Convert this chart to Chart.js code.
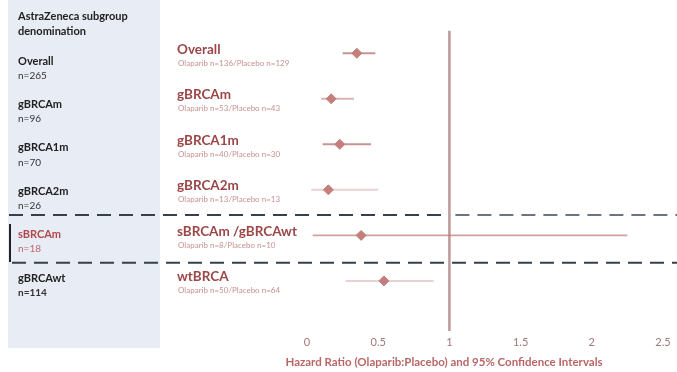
<!DOCTYPE html>
<html>
<head>
<meta charset="utf-8">
<script src="https://cdn.jsdelivr.net/npm/chart.js@4.4.1/dist/chart.umd.min.js"></script>
<style>
  html, body { margin: 0; padding: 0; background: #ffffff; }
  #wrap { width: 677px; height: 372px; position: relative; }
</style>
</head>
<body>
<div id="wrap"><canvas id="forest"></canvas></div>
<script>
// Subgroups as plotted (rows top to bottom)
const categories = ['Overall', 'gBRCAm', 'gBRCA1m', 'gBRCA2m', 'sBRCAm /gBRCAwt', 'wtBRCA'];
const armCounts = [
  'Olaparib n=136/Placebo n=129',
  'Olaparib n=53/Placebo n=43',
  'Olaparib n=40/Placebo n=30',
  'Olaparib n=13/Placebo n=13',
  'Olaparib n=8/Placebo n=10',
  'Olaparib n=50/Placebo n=64'
];
// Sponsor's own subgroup naming, shown in the side panel
const azGroups = ['Overall', 'gBRCAm', 'gBRCA1m', 'gBRCA2m', 'sBRCAm', 'gBRCAwt'];
const azCounts = ['n=265', 'n=96', 'n=70', 'n=26', 'n=18', 'n=114'];
// Hazard ratios with 95% confidence limits
const hazardRatio = [0.35, 0.17, 0.23, 0.15, 0.38, 0.54];
const ciLower     = [0.25, 0.10, 0.11, 0.03, 0.04, 0.27];
const ciUpper     = [0.48, 0.33, 0.45, 0.50, 2.25, 0.89];
const xTicks = [0, 0.5, 1, 1.5, 2, 2.5];
const nullEffect = 1;
const axisTitle = 'Hazard Ratio (Olaparib:Placebo) and 95% Confidence Intervals';

// how strongly each interval line shows
const ciAlpha = [0.85, 0.6, 0.85, 0.35, 0.75, 0.35];

const MAROON = '#9c4647';
const FONT = 'Lato, "Open Sans", sans-serif';

const ciDatasets = categories.map((c, i) => ({
  type: 'line',
  label: c + ' CI',
  data: [{ x: ciLower[i], y: i }, { x: ciUpper[i], y: i }],
  borderColor: `rgba(190,130,128,${ciAlpha[i]})`,
  borderWidth: i === 4 ? 1.6 : 2,
  pointRadius: 0,
  order: 2
}));

const refLine = {
  type: 'line',
  label: 'HR = 1',
  data: [{ x: nullEffect, y: -0.5 }, { x: nullEffect, y: 6.1 }],
  borderColor: '#bf9898',
  borderWidth: 2.5,
  pointRadius: 0,
  order: 3
};

const points = {
  type: 'scatter',
  label: 'Hazard ratio',
  data: hazardRatio.map((v, i) => ({ x: v, y: i })),
  pointStyle: 'rectRot',
  pointRadius: 5,
  backgroundColor: '#c47e7b',
  borderColor: '#c47e7b',
  order: 1
};

const sidePanel = {
  id: 'sidePanel',
  beforeDraw(chart) {
    const ctx = chart.ctx;
    ctx.save();
    // shaded panel on the left
    ctx.fillStyle = '#e7ecf5';
    ctx.fillRect(8, 0, 152, 348);

    ctx.textBaseline = 'middle';
    ctx.textAlign = 'left';
    ctx.fillStyle = '#222222';
    ctx.font = `bold 11px ${FONT}`;
    ctx.fillText('AstraZeneca subgroup', 18, 16);
    ctx.fillText('denomination', 18, 31);

    azGroups.forEach((g, i) => {
      const y = 61 + 43.4 * i;
      ctx.fillStyle = i === 4 ? '#b0484a' : '#222222';
      ctx.font = `bold 11px ${FONT}`;
      ctx.fillText(g, 18, y);
      ctx.fillStyle = i === 4 ? '#c0676a' : '#333333';
      ctx.font = `${i === 5 ? 'bold ' : ''}10px ${FONT}`;
      ctx.fillText(azCounts[i], 18, y + 14.5);
    });

    // bracket at the highlighted subgroup
    ctx.strokeStyle = '#222222';
    ctx.lineWidth = 2;
    ctx.beginPath();
    ctx.moveTo(10, 224);
    ctx.lineTo(10, 262);
    ctx.stroke();

    // subgroup labels beside the plot
    const ys = chart.scales.y;
    categories.forEach((c, i) => {
      const y = ys.getPixelForValue(i);
      ctx.filter = 'none';
      ctx.fillStyle = MAROON;
      ctx.font = `bold 13.5px ${FONT}`;
      ctx.fillText(c, 177, y - 4);
      ctx.filter = 'blur(0.6px)';
      ctx.fillStyle = 'rgba(185,115,115,0.8)';
      ctx.font = `8px ${FONT}`;
      ctx.fillText(armCounts[i], 178, y + 10);
    });
    ctx.filter = 'none';

    // axis title, centred under the whole forest area
    ctx.textAlign = 'center';
    ctx.fillStyle = '#b86668';
    ctx.font = `bold 11.5px ${FONT}`;
    ctx.fillText(axisTitle, 444, 362);
    ctx.restore();
  },
  beforeDatasetsDraw(chart) {
    const ctx = chart.ctx;
    const ys = chart.scales.y;
    const xs = chart.scales.x;
    ctx.save();
    ctx.lineWidth = 2;
    ctx.setLineDash([14, 8]);
    // separators around the sBRCAm row
    [3.55, 4.6].forEach((v, k) => {
      const y = ys.getPixelForValue(v);
      ctx.strokeStyle = '#36404d';
      ctx.beginPath();
      ctx.moveTo(k === 0 ? 9 : 12, y);
      ctx.lineTo(k === 0 ? xs.getPixelForValue(nullEffect) : 677, y);
      ctx.stroke();
      if (k === 0) {
        ctx.strokeStyle = '#6c7480';
        ctx.beginPath();
        ctx.moveTo(xs.getPixelForValue(nullEffect) + 6, y);
        ctx.lineTo(677, y);
        ctx.stroke();
      }
    });
    ctx.restore();
  }
};

new Chart(document.getElementById('forest'), {
  data: { datasets: [points, ...ciDatasets, refLine] },
  options: {
    responsive: true,
    maintainAspectRatio: false,
    animation: false,
    layout: { padding: { left: 307, right: 14, top: 30.5, bottom: 0 } },
    plugins: {
      legend: { display: false },
      tooltip: { enabled: false }
    },
    scales: {
      x: {
        type: 'linear',
        min: xTicks[0],
        max: xTicks[xTicks.length - 1],
        afterBuildTicks(axis) { axis.ticks = xTicks.map(v => ({ value: v })); },
        afterFit(axis) { axis.height = 41; },
        grid: { display: false, drawTicks: false },
        border: { display: false },
        ticks: {
          color: '#a07878',
          font: { family: FONT, size: 11 },
          padding: 5,
          maxRotation: 0,
          callback: v => String(v)
        },
        title: { display: false }
      },
      y: {
        type: 'linear',
        display: false,
        min: -0.5,
        max: 6.1,
        reverse: true
      }
    }
  },
  plugins: [sidePanel]
});
</script>
</body>
</html>
